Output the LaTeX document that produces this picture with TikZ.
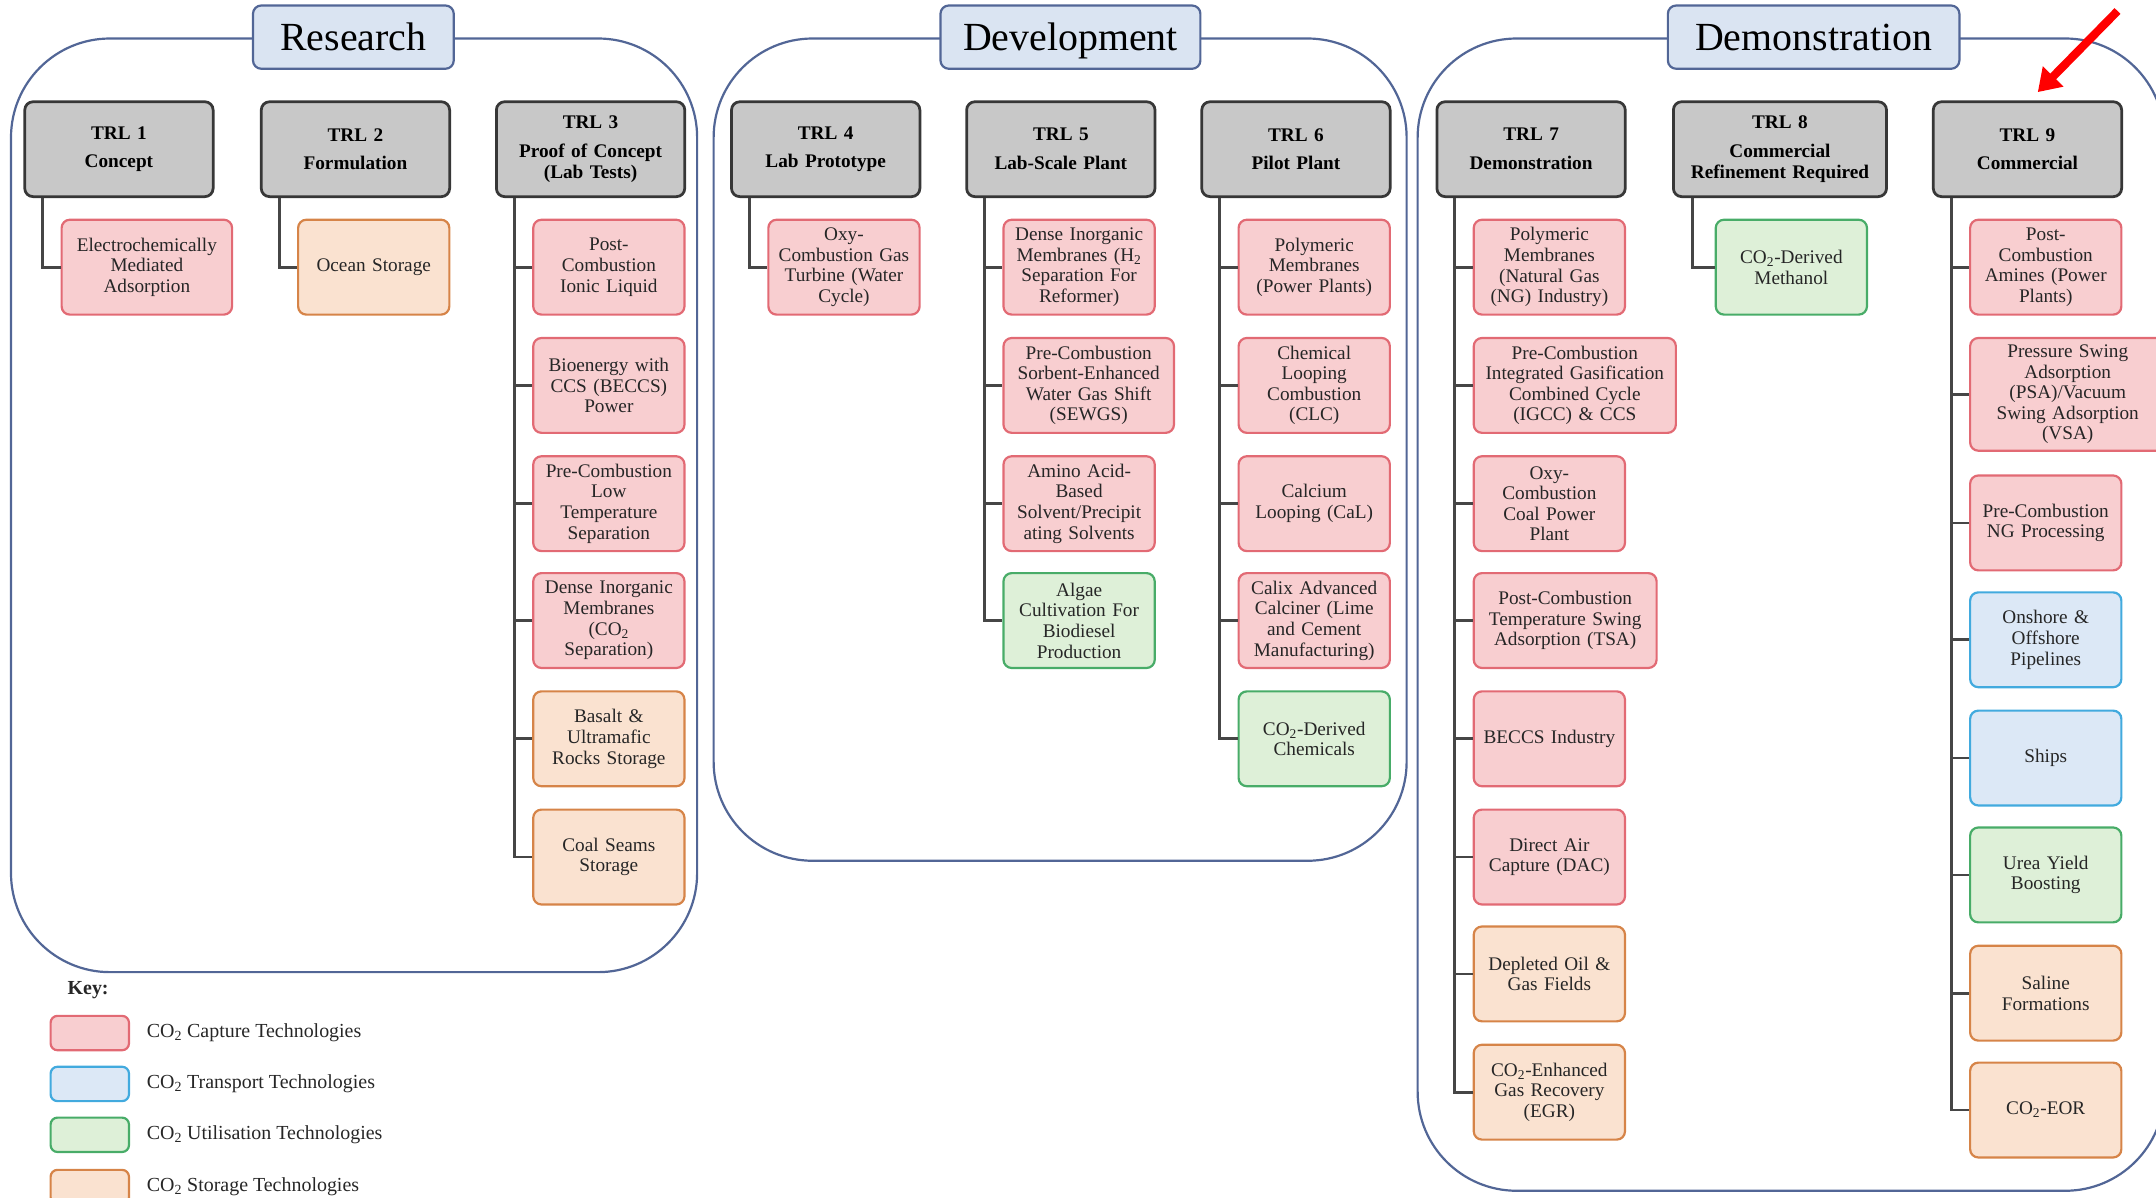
\documentclass[tikz,border=0pt]{standalone}
\usepackage{fontspec}
\setmainfont{Liberation Serif}
\usetikzlibrary{positioning,arrows.meta}

\definecolor{capfill}{RGB}{248,206,208}
\definecolor{capline}{RGB}{226,106,116}
\definecolor{trnfill}{RGB}{220,232,246}
\definecolor{trnline}{RGB}{66,170,222}
\definecolor{utlfill}{RGB}{222,240,216}
\definecolor{utlline}{RGB}{72,172,104}
\definecolor{stofill}{RGB}{250,226,208}
\definecolor{stoline}{RGB}{214,132,72}
\definecolor{hdrfill}{RGB}{200,200,200}
\definecolor{hdrline}{RGB}{55,55,55}
\definecolor{phfill}{RGB}{218,228,242}
\definecolor{phline}{RGB}{82,102,150}
\definecolor{treeline}{RGB}{70,70,70}

\tikzset{
  box/.style={anchor=north west, rounded corners=6pt, line width=1.6pt, minimum height=69pt,
    text width=104pt, inner sep=3pt, align=center, text=black!85,
    font=\fontsize{14}{15}\selectfont},
  capbox/.style={box, draw=capline, fill=capfill},
  trnbox/.style={box, draw=trnline, fill=trnfill},
  utlbox/.style={box, draw=utlline, fill=utlfill},
  stobox/.style={box, draw=stoline, fill=stofill},
  trlbox/.style={box, draw=hdrline, fill=hdrfill, line width=2pt, text width=131pt, text=black,
    font=\bfseries\fontsize{14}{15}\selectfont},
  phasebox/.style={draw=phline, fill=phfill, line width=1.6pt, rounded corners=6pt,
    minimum width=146pt, minimum height=46pt, text height=23pt, text depth=3pt,
    font=\fontsize{29}{30}\selectfont},
  group/.style={draw=phline, line width=1.6pt, rounded corners=72pt},
  tree/.style={draw=treeline, line width=2pt},
  swatch/.style={anchor=north west, rounded corners=5pt, line width=1.6pt,
    minimum width=57pt, minimum height=25pt, inner sep=0pt},
  keytext/.style={inner sep=0pt, text=black!85, font=\fontsize{14.5}{15}\selectfont},
}

\begin{document}
\begin{tikzpicture}[x=1pt,y=-1pt]
\useasboundingbox (0,0) rectangle (1568,871);
\clip (0,0) rectangle (1568,871);

% phases
\draw[group] (8,28) rectangle (507,707);
\draw[group] (519,28) rectangle (1023,626);
\draw[group] (1031,28) rectangle (1574,866);
\node[phasebox] (res) at (257,27) {Research};
\node[phasebox, minimum width=189pt] (dev) at (778.5,27) {Development};
\node[phasebox, minimum width=212pt] (dem) at (1319,27) {Demonstration};

% readiness levels
\node[trlbox] (t1) at (17,73) {TRL 1\\[6pt]Concept};
\node[trlbox] (t2) at (189,73) {TRL 2\\[6pt]Formulation};
\node[trlbox] (t3) at (360,73) {TRL 3\\[6pt]Proof of Concept\\(Lab Tests)};
\node[trlbox] (t4) at (531,73) {TRL 4\\[6pt]Lab Prototype};
\node[trlbox] (t5) at (702,73) {TRL 5\\[6pt]Lab-Scale Plant};
\node[trlbox] (t6) at (873,73) {TRL 6\\[6pt]Pilot Plant};
\node[trlbox] (t7) at (1044,73) {TRL 7\\[6pt]Demonstration};
\node[trlbox, text width=149pt] (t8) at (1216,73) {TRL 8\\[6pt]Commercial\\Refinement Required};
\node[trlbox] (t9) at (1405,73) {TRL 9\\[6pt]Commercial};

% technologies
\node[capbox, text width=118pt] (a1) at (44,159) {Electrochemically\\Mediated\\Adsorption};

\node[stobox] (b1) at (216,159) {Ocean Storage};

\node[capbox] (c1) at (387,159) {Post-\\Combustion\\Ionic Liquid};
\node[capbox] (c2) at (387,245) {Bioenergy with\\CCS (BECCS)\\Power};
\node[capbox] (c3) at (387,331) {Pre-Combustion\\Low\\Temperature\\Separation};
\node[capbox] (c4) at (387,416) {Dense Inorganic\\Membranes\\(CO\textsubscript{2}\\Separation)};
\node[stobox] (c5) at (387,502) {Basalt \&\\Ultramafic\\Rocks Storage};
\node[stobox] (c6) at (387,588) {Coal Seams\\Storage};

\node[capbox] (d1) at (558,159) {Oxy-\\Combustion Gas\\Turbine (Water\\Cycle)};

\node[capbox] (e1) at (729,159) {Dense Inorganic\\Membranes (H\textsubscript{2}\\Separation For\\Reformer)};
\node[capbox, text width=118pt] (e2) at (729,245) {Pre-Combustion\\Sorbent-Enhanced\\Water Gas Shift\\(SEWGS)};
\node[capbox] (e3) at (729,331) {Amino Acid-\\Based\\Solvent/Precipit\\ating Solvents};
\node[utlbox] (e4) at (729,416) {Algae\\Cultivation For\\Biodiesel\\Production};

\node[capbox] (f1) at (900,159) {Polymeric\\Membranes\\(Power Plants)};
\node[capbox] (f2) at (900,245) {Chemical\\Looping\\Combustion\\(CLC)};
\node[capbox] (f3) at (900,331) {Calcium\\Looping (CaL)};
\node[capbox] (f4) at (900,416) {Calix Advanced\\Calciner (Lime\\and Cement\\Manufacturing)};
\node[utlbox] (f5) at (900,502) {CO\textsubscript{2}-Derived\\Chemicals};

\node[capbox] (g1) at (1071,159) {Polymeric\\Membranes\\(Natural Gas\\(NG) Industry)};
\node[capbox, text width=141pt] (g2) at (1071,245) {Pre-Combustion\\Integrated Gasification\\Combined Cycle\\(IGCC) \& CCS};
\node[capbox] (g3) at (1071,331) {Oxy-\\Combustion\\Coal Power\\Plant};
\node[capbox, text width=127pt] (g4) at (1071,416) {Post-Combustion\\Temperature Swing\\Adsorption (TSA)};
\node[capbox] (g5) at (1071,502) {BECCS Industry};
\node[capbox] (g6) at (1071,588) {Direct Air\\Capture (DAC)};
\node[stobox] (g7) at (1071,673) {Depleted Oil \&\\Gas Fields};
\node[stobox] (g8) at (1071,759) {CO\textsubscript{2}-Enhanced\\Gas Recovery\\(EGR)};

\node[utlbox] (h1) at (1247,159) {CO\textsubscript{2}-Derived\\Methanol};

\node[capbox] (i1) at (1432,159) {Post-\\Combustion\\Amines (Power\\Plants)};
\node[capbox, text width=136pt, minimum height=82pt] (i2) at (1432,245) {Pressure Swing\\Adsorption\\(PSA)/Vacuum\\Swing Adsorption\\(VSA)};
\node[capbox] (i3) at (1432,345) {Pre-Combustion\\NG Processing};
\node[trnbox] (i4) at (1432,430) {Onshore \&\\Offshore\\Pipelines};
\node[trnbox] (i5) at (1432,516) {Ships};
\node[utlbox] (i6) at (1432,601) {Urea Yield\\Boosting};
\node[stobox] (i7) at (1432,687) {Saline\\Formations};
\node[stobox] (i8) at (1432,772) {CO\textsubscript{2}-EOR};

% tree lines
\draw[tree] (t1.south west) ++(14,0) |- (a1.west);
\draw[tree] (t2.south west) ++(14,0) |- (b1.west);
\draw[tree] (t3.south west) ++(14,0) |- (c1.west);
\draw[tree] (t3.south west) ++(14,0) |- (c2.west);
\draw[tree] (t3.south west) ++(14,0) |- (c3.west);
\draw[tree] (t3.south west) ++(14,0) |- (c4.west);
\draw[tree] (t3.south west) ++(14,0) |- (c5.west);
\draw[tree] (t3.south west) ++(14,0) |- (c6.west);
\draw[tree] (t4.south west) ++(14,0) |- (d1.west);
\draw[tree] (t5.south west) ++(14,0) |- (e1.west);
\draw[tree] (t5.south west) ++(14,0) |- (e2.west);
\draw[tree] (t5.south west) ++(14,0) |- (e3.west);
\draw[tree] (t5.south west) ++(14,0) |- (e4.west);
\draw[tree] (t6.south west) ++(14,0) |- (f1.west);
\draw[tree] (t6.south west) ++(14,0) |- (f2.west);
\draw[tree] (t6.south west) ++(14,0) |- (f3.west);
\draw[tree] (t6.south west) ++(14,0) |- (f4.west);
\draw[tree] (t6.south west) ++(14,0) |- (f5.west);
\draw[tree] (t7.south west) ++(14,0) |- (g1.west);
\draw[tree] (t7.south west) ++(14,0) |- (g2.west);
\draw[tree] (t7.south west) ++(14,0) |- (g3.west);
\draw[tree] (t7.south west) ++(14,0) |- (g4.west);
\draw[tree] (t7.south west) ++(14,0) |- (g5.west);
\draw[tree] (t7.south west) ++(14,0) |- (g6.west);
\draw[tree] (t7.south west) ++(14,0) |- (g7.west);
\draw[tree] (t7.south west) ++(14,0) |- (g8.west);
\draw[tree] (t8.south west) ++(15,0) |- (h1.west);
\draw[tree] (t9.south west) ++(14,0) |- (i1.west);
\draw[tree] (t9.south west) ++(14,0) |- (i2.west);
\draw[tree] (t9.south west) ++(14,0) |- (i3.west);
\draw[tree] (t9.south west) ++(14,0) |- (i4.west);
\draw[tree] (t9.south west) ++(14,0) |- (i5.west);
\draw[tree] (t9.south west) ++(14,0) |- (i6.west);
\draw[tree] (t9.south west) ++(14,0) |- (i7.west);
\draw[tree] (t9.south west) ++(14,0) |- (i8.west);

% key
\node[keytext, anchor=west, font=\bfseries\fontsize{14.5}{15}\selectfont] (key) at (49,720) {Key:};
\node[swatch, draw=capline, fill=capfill] (k1) at (36,738) {};
\node[swatch, draw=trnline, fill=trnfill] (k2) at (36,775) {};
\node[swatch, draw=utlline, fill=utlfill] (k3) at (36,812) {};
\node[swatch, draw=stoline, fill=stofill] (k4) at (36,850) {};
\node[keytext, right=12pt of k1] (k1t) {CO\textsubscript{2} Capture Technologies};
\node[keytext, right=12pt of k2] (k2t) {CO\textsubscript{2} Transport Technologies};
\node[keytext, right=12pt of k3] (k3t) {CO\textsubscript{2} Utilisation Technologies};
\node[keytext, right=12pt of k4] (k4t) {CO\textsubscript{2} Storage Technologies};

% marker
\coordinate (arrtail) at (1540,8);
\coordinate (arrtip) at (1482,67);
\draw[red, line width=6pt, -{Triangle[length=16pt,width=20pt]}] (arrtail) -- (arrtip);
\end{tikzpicture}
\end{document}
